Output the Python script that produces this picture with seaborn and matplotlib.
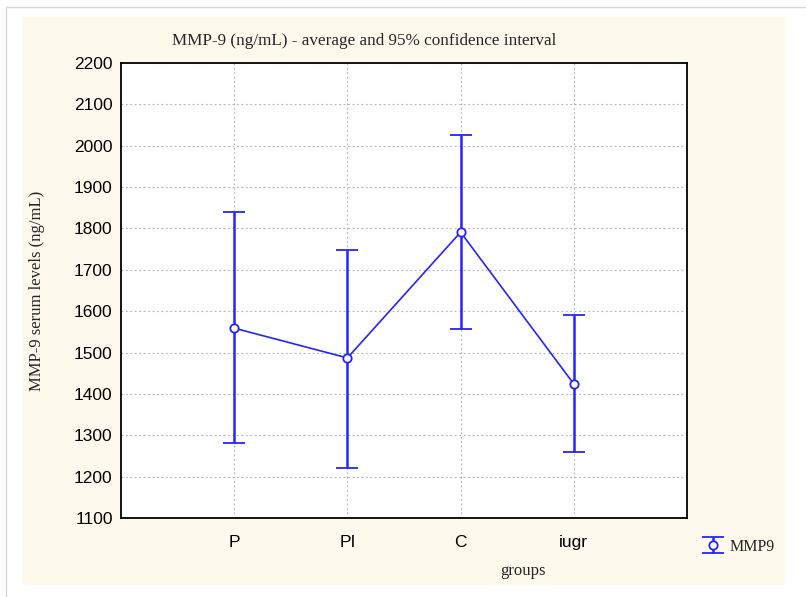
import seaborn as sns
import matplotlib.pyplot as plt
import matplotlib.patches as mpatches
import numpy as np

# values
groups = ['P', 'PI', 'C', 'iugr']
means = [1559, 1487, 1791, 1424]
ci_low = [1281, 1221, 1557, 1260]
ci_high = [1840, 1748, 2026, 1590]

blue = '#2424ff'
cream = '#fdf9ed'

sns.set_theme(style='white')
plt.rcParams['font.family'] = ['Liberation Sans', 'DejaVu Sans']

fig = plt.figure(figsize=(8.06, 5.97), dpi=100)
fig.patch.set_facecolor('white')

# cream panel and thin frame lines like the screenshot
fig.add_artist(mpatches.Rectangle((22 / 806, 1 - 585 / 597), 763 / 806, 568 / 597,
                                  transform=fig.transFigure, facecolor=cream,
                                  edgecolor='none', zorder=-10))
fig.add_artist(plt.Line2D([6 / 806, 1], [1 - 7 / 597, 1 - 7 / 597], transform=fig.transFigure,
                          color='#d8d8d8', lw=1))
fig.add_artist(plt.Line2D([6 / 806, 6 / 806], [0, 1 - 7 / 597], transform=fig.transFigure,
                          color='#d8d8d8', lw=1))

ax = fig.add_axes([121 / 806, 1 - 518 / 597, 566 / 806, 455 / 597])
ax.set_facecolor('white')

sns.pointplot(x=groups, y=means, errorbar=None, color=blue, markers='o',
              linewidth=1.2, markersize=0, ax=ax)
means_arr = np.array(means)
yerr = [means_arr - np.array(ci_low), np.array(ci_high) - means_arr]
ax.errorbar(np.arange(len(groups)), means, yerr=yerr, fmt='o', color=blue,
            ecolor=blue, elinewidth=1.8, capsize=8, capthick=1.8,
            markersize=6, markerfacecolor='white', markeredgecolor=blue,
            markeredgewidth=1.3, label='MMP9', zorder=5)

ax.set_xlim(-1, 4)
ax.set_ylim(1100, 2200)
ax.set_yticks(np.arange(1100, 2201, 100))
ax.grid(True, linestyle=(0, (1.5, 2.5)), color='#b0b0b0', linewidth=0.8)
ax.set_axisbelow(True)
for s in ax.spines.values():
    s.set_color('black')
    s.set_linewidth(1.3)
ax.tick_params(direction='in', length=4, width=1, colors='black', labelsize=12.5)
ax.tick_params(axis='x', pad=12)
ax.tick_params(axis='y', pad=6)

serif = ['Liberation Serif', 'DejaVu Serif']
ax.set_title('MMP-9 (ng/mL) - average and 95% confidence interval',
             family=serif, fontsize=12.3, pad=13, x=(364 - 121) / 566)
ax.set_ylabel('MMP-9 serum levels (ng/mL)', family=serif, fontsize=12)
ax.yaxis.set_label_coords((45 - 121) / 566, 0.5)
ax.set_xlabel('groups', family=serif, fontsize=12)
ax.xaxis.set_label_coords((523 - 121) / 566, -(563 - 518) / 455)

leg = ax.legend(loc='center left', bbox_to_anchor=(686 / 806, 1 - 547 / 597),
                bbox_transform=fig.transFigure, frameon=False,
                prop={'family': serif, 'size': 11.5}, handlelength=1.6,
                handletextpad=0.25)

fig.savefig('out.png', dpi=100)
